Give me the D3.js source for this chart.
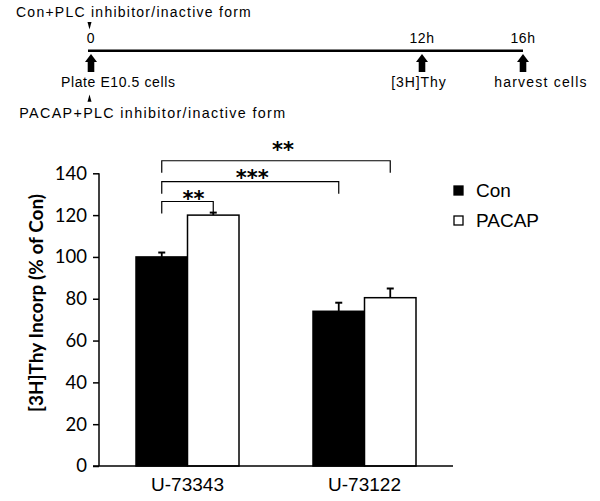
<!DOCTYPE html>
<html><head><meta charset="utf-8">
<script src="https://cdn.jsdelivr.net/npm/d3@7"></script>
<style>body{margin:0;background:#fff}svg{display:block}</style>
</head><body><div id="chart"></div>
<script>
// ---- data ----
const categories = ["U-73343", "U-73122"];
const seriesNames = ["Con", "PACAP"];
const conValues = [100, 74];
const pacapValues = [120, 80.5];
const conErrors = [2.1, 4.1];
const pacapErrors = [1.2, 4.4];
const yTicks = [0, 20, 40, 60, 80, 100, 120, 140];
// significance brackets: [fromCategory, fromSeries, toCategory, toSeries, level, label]
const brackets = [
  [0, 0, 0, 1, 126.5, "**"],
  [0, 0, 1, 0, 136, "***"],
  [0, 0, 1, 1, 146, "**"]
];
// timeline
const timeTicks = [0, 12, 16];
const timeTickLabels = ["0", "12h", "16h"];
const timeEventLabels = ["Plate E10.5 cells", "[3H]Thy", "harvest cells"];
const topNote = "Con+PLC inhibitor/inactive form";
const bottomNote = "PACAP+PLC inhibitor/inactive form";

// ---- layout ----
const W = 600, H = 501;
const svg = d3.select("#chart").append("svg").attr("width", W).attr("height", H);
const arial = "'Liberation Sans', Arial, sans-serif";
const calibri = "Lato, 'Open Sans', sans-serif";

// timeline
const t = d3.scaleLinear().domain([0, 12, 16]).range([91, 422, 523]);
const tl = svg.append("g");
tl.append("line").attr("x1", t(0) - 3).attr("x2", t(16)).attr("y1", 50.7).attr("y2", 50.7)
  .attr("stroke", "#000").attr("stroke-width", 2.5);
timeTicks.forEach((v, i) => {
  const x = t(v);
  tl.append("text").attr("x", x).attr("y", 43.3).attr("text-anchor", "middle")
    .attr("font-family", arial).attr("font-size", 14).attr("letter-spacing", 0.6).text(timeTickLabels[i]);
  tl.append("path").attr("d", `M${x},54 L${x+6},62 L${x+3.3},62 L${x+3.3},72 L${x-3.3},72 L${x-3.3},62 L${x-6},62 Z`)
    .attr("fill", "#000");
});
const evDx = [-30, -3, 18];
const evAnchor = ["start", "middle", "middle"];
const evSpacing = [0.6, 0.9, 1.2];
timeEventLabels.forEach((s, i) => {
  tl.append("text").attr("x", t(timeTicks[i]) + evDx[i]).attr("y", 87.3).attr("text-anchor", evAnchor[i])
    .attr("font-family", arial).attr("font-size", 14).attr("letter-spacing", evSpacing[i]).text(s);
});
const x0t = t(0) - 1.5;
tl.append("path").attr("d", `M${x0t-2},22 L${x0t+2},22 L${x0t},29.5 Z`).attr("fill", "#000");
tl.append("path").attr("d", `M${x0t-2},101.7 L${x0t+2},101.7 L${x0t},94.5 Z`).attr("fill", "#000");
tl.append("text").attr("x", 16).attr("y", 17.3).attr("font-family", arial).attr("font-size", 14)
  .attr("letter-spacing", 1.25).text(topNote);
tl.append("text").attr("x", 19.3).attr("y", 118.3).attr("font-family", arial).attr("font-size", 14.3)
  .attr("letter-spacing", 1.35).text(bottomNote);

// bar chart
const plot = {left: 99, right: 453, top: 173.3, bottom: 466};
const x = d3.scaleBand().domain(categories).range([plot.left, plot.right]).paddingInner(0).paddingOuter(0);
const y = d3.scaleLinear().domain([0, 140]).range([plot.bottom, plot.top]);
const barW = 51.5;
const xs = d3.scaleBand().domain(seriesNames).range([0, barW * 2]);
const groupOffset = (x.bandwidth() - barW * 2) / 2;
const barCenter = (ci, si) => x(categories[ci]) + groupOffset + xs(seriesNames[si]) + barW / 2;

const values = [conValues, pacapValues];
const errors = [conErrors, pacapErrors];
const fills = ["#000", "#fff"];

// y axis
const yAxis = d3.axisLeft(y).tickValues(yTicks).tickSize(6).tickPadding(6);
const ga = svg.append("g").attr("transform", `translate(${plot.left},0)`).call(yAxis);
ga.select(".domain").attr("stroke", "#000").attr("stroke-width", 1.5).attr("d", `M0,${plot.top}V${plot.bottom}`);
ga.selectAll(".tick line").attr("stroke", "#000").attr("stroke-width", 1.5);
ga.selectAll(".tick text").attr("font-family", calibri).attr("font-size", 18.5).attr("fill", "#000");

// bars
seriesNames.forEach((s, si) => {
  svg.append("g").selectAll("rect").data(categories).join("rect")
    .attr("x", (d, ci) => barCenter(ci, si) - barW / 2)
    .attr("y", (d, ci) => y(values[si][ci]))
    .attr("width", barW)
    .attr("height", (d, ci) => y(0) - y(values[si][ci]))
    .attr("fill", fills[si]).attr("stroke", "#000").attr("stroke-width", 1.5);
  const eg = svg.append("g");
  categories.forEach((c, ci) => {
    const cx = barCenter(ci, si);
    const top = y(values[si][ci] + errors[si][ci]);
    eg.append("line").attr("x1", cx).attr("x2", cx).attr("y1", y(values[si][ci])).attr("y2", top)
      .attr("stroke", "#000").attr("stroke-width", 1.8);
    eg.append("line").attr("x1", cx - 3.5).attr("x2", cx + 3.5).attr("y1", top).attr("y2", top)
      .attr("stroke", "#000").attr("stroke-width", 2);
  });
});

// x axis
const xAxis = d3.axisBottom(x).tickSize(0).tickPadding(12);
const gx = svg.append("g").attr("transform", `translate(0,${plot.bottom})`).call(xAxis);
gx.select(".domain").attr("stroke", "#000").attr("stroke-width", 1.5).attr("d", `M${plot.left - 6},0H${plot.right}`);
gx.selectAll(".tick text").attr("font-family", arial).attr("font-size", 19).attr("fill", "#000").attr("dy", "0.71em");

// brackets
const legLen = 12;
const starLift = [4.5, 3, -4];
const starDx = [6, 2, 7];
brackets.forEach(([c1, s1, c2, s2, lvl, lab], i) => {
  const xa = barCenter(c1, s1), xb = barCenter(c2, s2), yy = y(lvl);
  svg.append("path").attr("d", `M${xa},${yy + legLen}V${yy}H${xb}V${yy + legLen}`)
    .attr("fill", "none").attr("stroke", "#000").attr("stroke-width", 1.2);
  svg.append("text").attr("x", (xa + xb) / 2 + starDx[i]).attr("y", yy + starLift[i]).attr("text-anchor", "middle")
    .attr("font-family", "'DejaVu Sans', sans-serif").attr("font-weight", "bold").attr("font-size", 21).text(lab);
});

// y label
svg.append("text").attr("transform", `translate(43,303) rotate(-90)`)
  .attr("text-anchor", "middle").attr("font-family", calibri).attr("font-weight", "bold")
  .attr("font-size", 19).text("[3H]Thy Incorp (% of Con)");

// legend
const lg = svg.append("g");
seriesNames.forEach((s, i) => {
  const yy = 190.5 + i * 30;
  lg.append("rect").attr("x", 454).attr("y", yy - 4.5).attr("width", 9).attr("height", 9)
    .attr("fill", fills[i]).attr("stroke", "#000").attr("stroke-width", 1.3);
  lg.append("text").attr("x", 476).attr("y", yy + 6.5).attr("font-family", arial).attr("font-size", 19).text(s);
});
</script></body></html>
